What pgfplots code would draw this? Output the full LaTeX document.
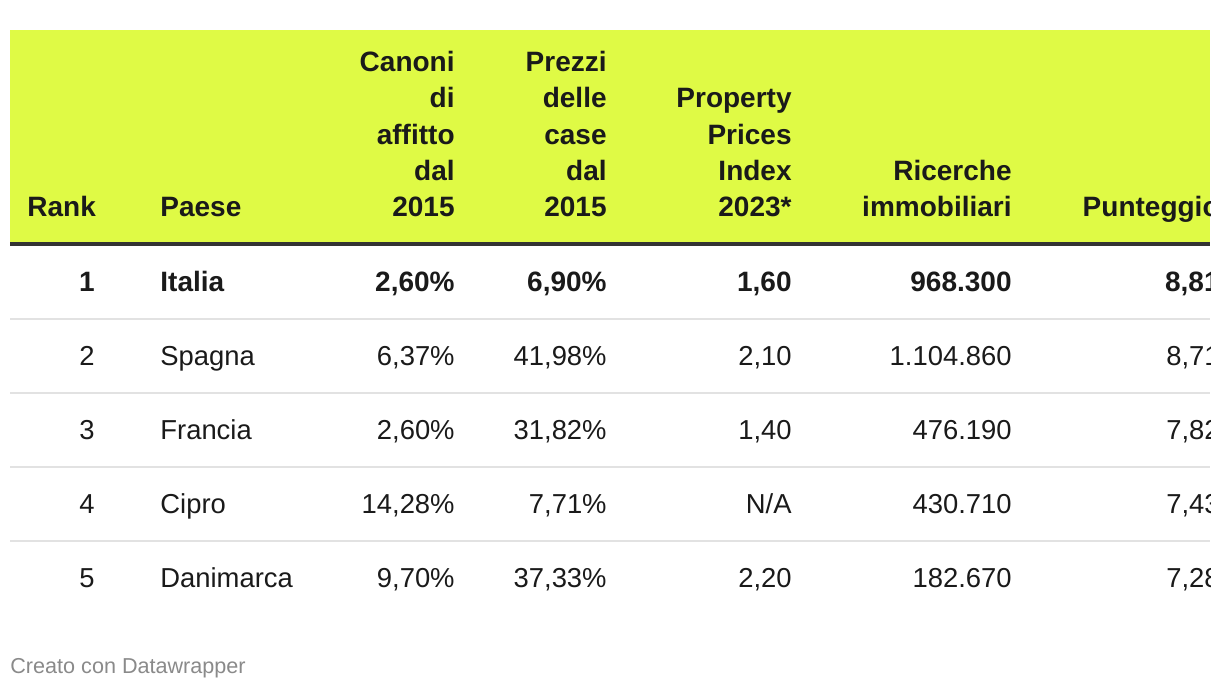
\documentclass[border=0pt]{standalone}
\usepackage{pgfplots}
\pgfplotsset{compat=1.18}
\usepackage{fontspec}
\setmainfont{Liberation Sans}
\definecolor{hdr}{HTML}{DFFA45}
\definecolor{txt}{HTML}{1A1A1A}
\definecolor{rulec}{HTML}{333333}
\definecolor{sep}{HTML}{E2E2E2}
\definecolor{foot}{HTML}{8A8A8A}
\tikzset{
  cell/.style={font=\fontsize{13.7}{16}\selectfont, text=txt, inner sep=0pt},
  hcell/.style={font=\fontsize{14}{16}\selectfont\bfseries, text=txt, inner sep=0pt},
}
% right-aligned cell: x, baseline y, text
\newcommand{\RC}[3]{\node[cell, anchor=base east] at (axis cs:#1,#2) {#3};}
\newcommand{\LC}[3]{\node[cell, anchor=base west] at (axis cs:#1,#2) {#3};}
\newcommand{\RB}[3]{\node[hcell, anchor=base east] at (axis cs:#1,#2) {#3};}
\newcommand{\LB}[3]{\node[hcell, anchor=base west] at (axis cs:#1,#2) {#3};}
\begin{document}
\begin{tikzpicture}
\begin{axis}[
  width=610pt, height=345pt, scale only axis,
  xmin=0, xmax=1220, ymin=0, ymax=690, y dir=reverse,
  axis lines=none, ticks=none, clip=false,
]
\fill[white] (axis cs:0,0) rectangle (axis cs:1220,690);
\begin{scope}
\clip (axis cs:10,0) rectangle (axis cs:1210,690);
\fill[hdr] (axis cs:10,30) rectangle (axis cs:1210,242);
\fill[rulec] (axis cs:10,242) rectangle (axis cs:1210,246);
\draw[sep, line width=0.6pt] (axis cs:10,319) -- (axis cs:1210,319);
\draw[sep, line width=0.6pt] (axis cs:10,393) -- (axis cs:1210,393);
\draw[sep, line width=0.6pt] (axis cs:10,467) -- (axis cs:1210,467);
\draw[sep, line width=0.6pt] (axis cs:10,541) -- (axis cs:1210,541);
% header
\LB{27}{216}{Rank}
\LB{160}{216}{Paese}
\RB{455}{72}{Canoni}
\RB{455}{108}{di}
\RB{455}{144}{affitto}
\RB{455}{180}{dal}
\RB{455}{216}{2015}
\RB{607}{72}{Prezzi}
\RB{607}{108}{delle}
\RB{607}{144}{case}
\RB{607}{180}{dal}
\RB{607}{216}{2015}
\RB{792}{108}{Property}
\RB{792}{144}{Prices}
\RB{792}{180}{Index}
\RB{792}{216}{2023*}
\RB{1012}{180}{Ricerche}
\RB{1012}{216}{immobiliari}
\RB{1220}{216}{Punteggio}
% row 1 (bold)
\RB{95}{291}{1}
\LB{160}{291}{Italia}
\RB{455}{291}{2,60\%}
\RB{607}{291}{6,90\%}
\RB{792}{291}{1,60}
\RB{1012}{291}{968.300}
\RB{1220}{291}{8,81}
% row 2
\RC{95}{365}{2}
\LC{160}{365}{Spagna}
\RC{455}{365}{6,37\%}
\RC{607}{365}{41,98\%}
\RC{792}{365}{2,10}
\RC{1012}{365}{1.104.860}
\RC{1220}{365}{8,71}
% row 3
\RC{95}{439}{3}
\LC{160}{439}{Francia}
\RC{455}{439}{2,60\%}
\RC{607}{439}{31,82\%}
\RC{792}{439}{1,40}
\RC{1012}{439}{476.190}
\RC{1220}{439}{7,82}
% row 4
\RC{95}{513}{4}
\LC{160}{513}{Cipro}
\RC{455}{513}{14,28\%}
\RC{607}{513}{7,71\%}
\RC{792}{513}{N/A}
\RC{1012}{513}{430.710}
\RC{1220}{513}{7,43}
% row 5
\RC{95}{587}{5}
\LC{160}{587}{Danimarca}
\RC{455}{587}{9,70\%}
\RC{607}{587}{37,33\%}
\RC{792}{587}{2,20}
\RC{1012}{587}{182.670}
\RC{1220}{587}{7,28}
\end{scope}
\node[font=\fontsize{10.8}{12}\selectfont, text=foot, inner sep=0pt, anchor=base west] at (axis cs:10,673) {Creato con Datawrapper};
\end{axis}
\end{tikzpicture}
\end{document}
